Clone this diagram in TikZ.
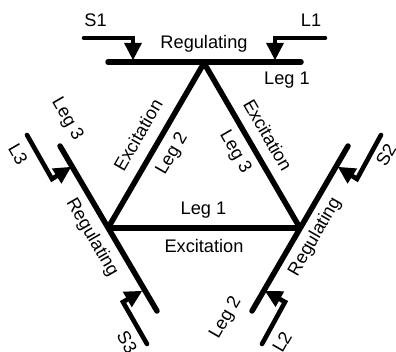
\documentclass[tikz,border=0pt]{standalone}
\usepackage{fontspec}
\setmainfont{Liberation Sans}
\usetikzlibrary{arrows.meta,calc}
\tikzset{
  bar/.style={line width=5.5pt,line cap=round,black},
  edge/.style={line width=5.5pt,line cap=butt,black},
  feed/.style={line width=4.6pt,line cap=round,line join=miter,black,-{Triangle[width=18pt,length=17pt,line width=0pt]}},
  lbl/.style={font=\fontsize{18.2pt}{20pt}\selectfont,inner sep=0pt,text=black}
}
\begin{document}
\begin{tikzpicture}[x=1pt,y=-1pt]
\useasboundingbox (0,0) rectangle (396,352);
\coordinate (A) at (204,63);
\coordinate (B) at (108,228);
\coordinate (C) at (300,228);
\coordinate (T1) at (108,62);
\coordinate (T2) at (301,62);
\coordinate (R1) at (60,146);
\coordinate (R2) at (157,311);
\coordinate (Q1) at (348,146);
\coordinate (Q2) at (252,311);
\draw[bar] (T1) -- (T2);
\draw[bar] (R1) -- (R2);
\draw[bar] (Q1) -- (Q2);
\draw[edge] (A) -- (B);
\draw[edge] (A) -- (C);
\draw[edge] (B) -- (C);
\coordinate (s1a) at (84,38); \coordinate (s1b) at (133,38); \coordinate (s1c) at (133,60);
\coordinate (l1a) at (325,38); \coordinate (l1b) at (275,38); \coordinate (l1c) at (275,60);
\coordinate (l3a) at (27,135); \coordinate (l3b) at (52,179); \coordinate (l3c) at (71,167);
\coordinate (s3a) at (147,344); \coordinate (s3b) at (123,302); \coordinate (s3c) at (142,291);
\coordinate (s2a) at (381,135); \coordinate (s2b) at (357,179); \coordinate (s2c) at (338,167);
\coordinate (l2a) at (262,344); \coordinate (l2b) at (285,302); \coordinate (l2c) at (265,291);
\draw[feed] (s1a) -- (s1b) -- (s1c);
\draw[feed] (l1a) -- (l1b) -- (l1c);
\draw[feed] (l3a) -- (l3b) -- (l3c);
\draw[feed] (s3a) -- (s3b) -- (s3c);
\draw[feed] (s2a) -- (s2b) -- (s2c);
\draw[feed] (l2a) -- (l2b) -- (l2c);
\node[lbl] (ts1) at (95.5,20) {S1};
\node[lbl] (tl1) at (311,20) {L1};
\node[lbl] (treg1) at (204,44) {Regulating};
\node[lbl] (tleg1a) at (287,80) {Leg 1};
\node[lbl,rotate=60] (tex2) at (138,135) {Excitation};
\node[lbl,rotate=-60] (tex3) at (268,135) {Excitation};
\node[lbl,rotate=60] (tleg2a) at (172.5,154) {Leg 2};
\node[lbl,rotate=-60] (tleg3a) at (235,152) {Leg 3};
\node[lbl,rotate=-60] (tleg3b) at (67,119) {Leg 3};
\node[lbl,rotate=-60] (tl3) at (18,154) {L3};
\node[lbl,rotate=60] (ts2) at (386,155) {S2};
\node[lbl] (tleg1b) at (203.5,210) {Leg 1};
\node[lbl] (texc) at (204,246) {Excitation};
\node[lbl,rotate=-60] (treg3) at (92,237.5) {Regulating};
\node[lbl,rotate=60] (treg2) at (315,237) {Regulating};
\node[lbl,rotate=-60] (ts3) at (127,342) {S3};
\node[lbl,rotate=60] (tl2) at (282,342) {L2};
\node[lbl,rotate=60] (tleg2b) at (226,318) {Leg 2};
\end{tikzpicture}
\end{document}
